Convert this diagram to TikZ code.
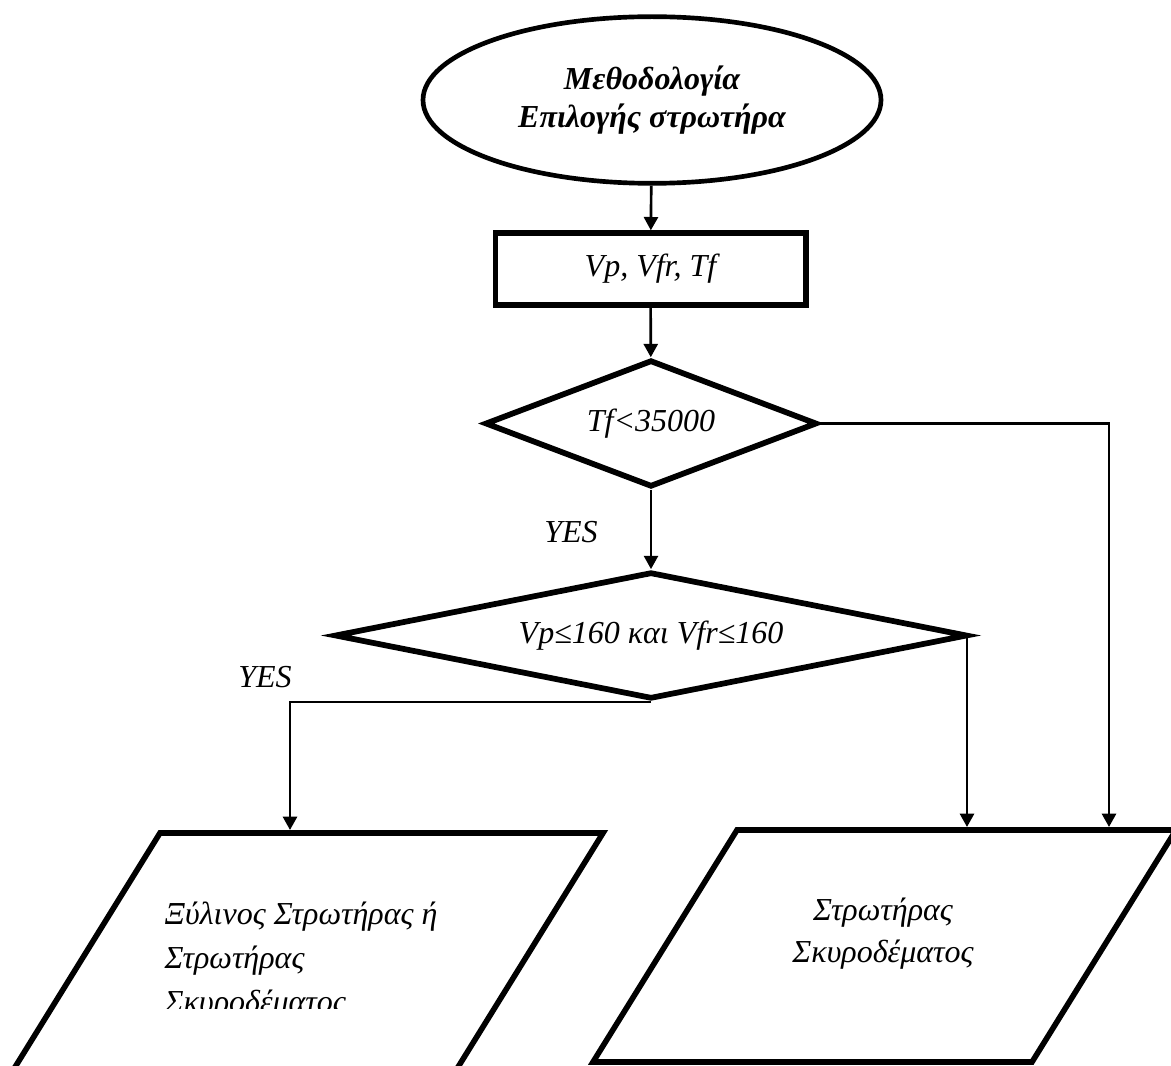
\documentclass[tikz,border=0pt]{standalone}
\usepackage{fontspec}
\setmainfont{Liberation Serif}
\usetikzlibrary{shapes.geometric,arrows.meta}
\begin{document}
\begin{tikzpicture}[x=0.75pt,y=-0.75pt,
  every node/.style={font=\fontsize{24pt}{31.5pt}\selectfont\itshape},
  box/.style={draw, line width=4pt, inner sep=0pt},
  startbox/.style={box, ellipse, line width=3.5pt, minimum width=343.5pt,
    minimum height=125pt, align=center,
    font=\fontsize{24pt}{29pt}\selectfont\bfseries\itshape},
  iobox/.style={box, rectangle, minimum width=233pt, minimum height=54pt},
  decision/.style={box, diamond, line width=4.3pt, minimum height=95.25pt},
  flow/.style={line width=2pt, -{Triangle[length=10pt,width=10.5pt]}},
  outbox/.style={line width=4.2pt, line join=miter},
]
\useasboundingbox (0,0) rectangle (1171,1066);

% main column
\node[startbox] (start) at (652,100) {Μεθοδολογία\\Επιλογής στρωτήρα};
\node[iobox] (input) at (650.5,269) {Vp, Vfr, Tf};
\node[decision, minimum width=249pt, shape aspect=2.6] (d1) at (651,423.5) {Tf<35000};
\node[decision, minimum width=474.75pt, shape aspect=5] (d2) at (651,635.5)
  {Vp≤160 και Vfr≤160\hspace{16pt}};

% output blocks
\draw[outbox] (12,1072) -- (160,833) -- (603,833) -- (455,1072);
\draw[outbox] (737,830) -- (1176,830) -- (1032,1062) -- (593,1062) -- cycle;
\coordinate (inL) at (290,830);
\coordinate (inR1) at (967,827);
\coordinate (inR2) at (1109,827);

\begin{scope}
  \clip (0,0) rectangle (1171,1008);
  \node[anchor=base west, align=left,
        font=\fontsize{24pt}{33pt}\selectfont\itshape] (outL) at (160,1012)
    {Ξύλινος Στρωτήρας ή\\Στρωτήρας\\Σκυροδέματος};
\end{scope}
\node[anchor=base, align=center] (outR) at (883,962) {Στρωτήρας\\Σκυροδέματος};

% connectors
\draw[flow] (start) -- (input);
\draw[flow] (input) -- (d1);
\draw[flow] (d1.south) -- (d2.north);
\draw[flow] (d1.east) -| (inR2);
\draw[flow] (d2.east) -| (inR1);
\draw[flow] (d2.south) -| (inL);

\node (yes1) at (571,532) {YES};
\node (yes2) at (265,677) {YES};
\end{tikzpicture}
\end{document}
